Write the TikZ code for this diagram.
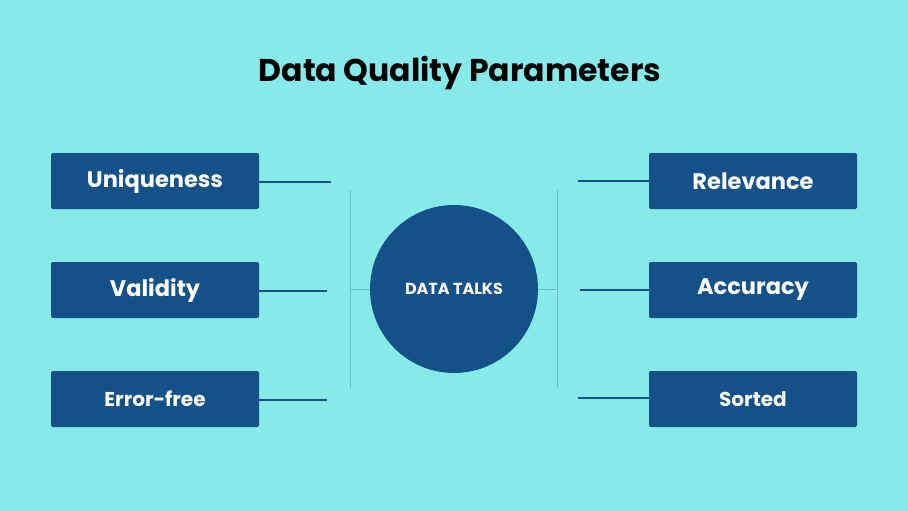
\documentclass[tikz,border=0pt]{standalone}
\usepackage{fontspec}
\setmainfont{Poppins}
\definecolor{bg}{HTML}{86EAE9}
\definecolor{dk}{HTML}{145189}
\definecolor{thin}{HTML}{6BBFC4}
\begin{document}
\begin{tikzpicture}[x=1pt,y=-1pt,
  box/.style={fill=dk,rounded corners=2pt,minimum width=208pt,minimum height=56pt,inner sep=0pt,text=white,font=\fontsize{22.5}{26}\selectfont\bfseries},
  sbox/.style={box,font=\fontsize{20}{24}\selectfont\bfseries},
  conn/.style={draw=dk,line width=1.5pt},
  tl/.style={draw=thin,line width=1pt}]
\fill[bg] (0,0) rectangle (908,511);
\useasboundingbox (0,0) rectangle (908,511);
\node (title) at (460,73) {\fontsize{31.5}{36}\selectfont\bfseries Data Quality Parameters};
\node[box] (u) at (155,181) {\raisebox{-1pt}{Uniqueness}};
\node[box] (v) at (155,290) {\raisebox{-1pt}{Validity}};
\node[sbox] (e) at (155,399) {Error-free};
\node[box] (r) at (753,181) {\raisebox{-1pt}{Relevance}};
\node[box] (a) at (753,290) {\raisebox{-1pt}{Accuracy}};
\node[sbox] (s) at (753,399) {Sorted};
\node[circle,fill=dk,minimum size=168pt,inner sep=0pt,text=white,font=\fontsize{16}{18}\selectfont\bfseries] (c) at (454,289) {DATA TALKS};
\coordinate (lu) at (331,182); \coordinate (lv) at (327,291); \coordinate (le) at (327,400);
\coordinate (ru) at (578,181); \coordinate (rv) at (580,290); \coordinate (re) at (578,398);
\draw[conn] (u.east |- lu) -- (lu);
\draw[conn] (v.east |- lv) -- (lv);
\draw[conn] (e.east |- le) -- (le);
\draw[conn] (r.west |- ru) -- (ru);
\draw[conn] (a.west |- rv) -- (rv);
\draw[conn] (s.west |- re) -- (re);
\coordinate (lt) at (350,190); \coordinate (lb) at (350,388); \coordinate (lm) at (350,289);
\coordinate (rt) at (557,190); \coordinate (rb) at (557,388); \coordinate (rm) at (557,289);
\draw[tl] (lt) -- (lb); \draw[tl] (rt) -- (rb);
\draw[tl] (lm) -- (c.west); \draw[tl] (c.east) -- (rm);
\end{tikzpicture}
\end{document}
